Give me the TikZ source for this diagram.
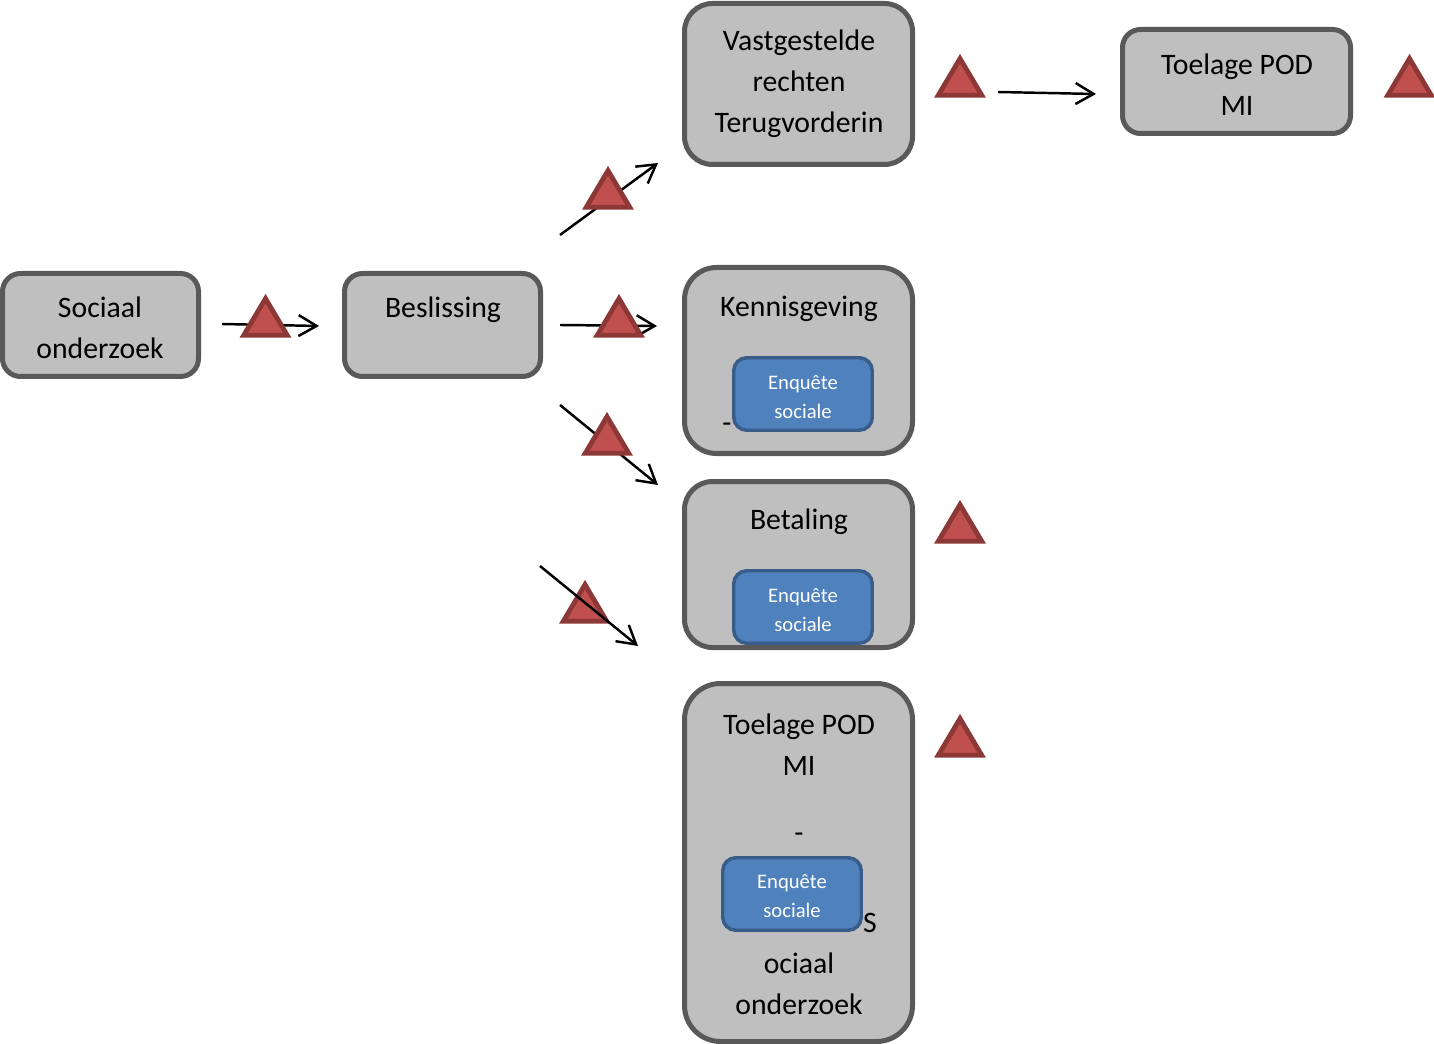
\documentclass[tikz,border=0pt]{standalone}
\usepackage{fontspec}
\setmainfont{Carlito}
\usetikzlibrary{arrows.meta}
\definecolor{boxfill}{HTML}{BFBFBF}
\definecolor{boxline}{HTML}{595959}
\definecolor{bluefill}{HTML}{4F81BD}
\definecolor{blueline}{HTML}{385D8A}
\definecolor{trifill}{HTML}{C0504D}
\definecolor{triline}{HTML}{8C3836}
\newlength{\pxu}\setlength{\pxu}{0.75pt}
\newcommand{\mainfs}{\fontsize{22.3pt}{30.75pt}\selectfont}
\newcommand{\smallfs}{\fontsize{15.5pt}{21.75pt}\selectfont}
% \rbox{style}{name}{x1}{y1}{x2}{y2}{line width}{radius}
\newcommand{\rbox}[8]{%
  \pgfmathsetmacro{\bw}{#5-#3-#7}\pgfmathsetmacro{\bh}{#6-#4-#7}%
  \node[#1,minimum width=\bw*\pxu,minimum height=\bh*\pxu,rounded corners=#8*\pxu] (#2) at ({(#3+#5)/2},{(#4+#6)/2}) {};}
\tikzset{
  x=0.75pt,y=-0.75pt,
  graybox/.style={draw=boxline,fill=boxfill,line width=3.75pt,inner sep=0pt,outer sep=0pt},
  bluebox/.style={draw=blueline,fill=bluefill,line width=2.6pt,inner sep=0pt,outer sep=0pt},
  txtmain/.style={font=\mainfs,text=black,align=center,inner sep=0pt},
  txtsmall/.style={font=\smallfs,text=white,align=center,inner sep=0pt},
  conn/.style={draw=black,line width=1.85pt,-{Straight Barb[length=13.5pt,width=15.75pt]}},
  warn/.pic={\path[fill=trifill,draw=triline,line width=3.6pt,miter limit=10]
    (0,3.6) -- (21.7,40.2) -- (-21.7,40.2) -- cycle;}
}
\begin{document}
\begin{tikzpicture}
\useasboundingbox (0,0) rectangle (1434,1044);
% boxes
\rbox{graybox}{sociaal}{0}{271}{201}{379}{5}{18}
\rbox{graybox}{beslissing}{342}{271}{543}{379}{5}{18}
\rbox{graybox}{vast}{682}{1}{915}{167}{5}{28}
\rbox{graybox}{toelageA}{1120}{27}{1353}{136}{5}{18}
\rbox{graybox}{kennis}{682}{265}{915}{456}{5}{32}
\rbox{graybox}{betaling}{682}{479}{915}{650}{5}{28}
\rbox{graybox}{toelageB}{682}{681}{915}{1044}{5}{36}
\rbox{bluebox}{enqA}{732}{356}{874}{432}{3.5}{13}
\rbox{bluebox}{enqB}{732}{569}{874}{645}{3.5}{13}
\rbox{bluebox}{enqC}{721}{856}{863}{932}{3.5}{13}
% labels
\node[txtmain] (tSociaal) at (100,328) {Sociaal\\onderzoek};
\node[txtmain] (tBeslissing) at (443,310) {Beslissing};
\node[txtmain] (tVast) at (799,84) {Vastgestelde\\rechten\\Terugvorderin};
\node[txtmain] (tToelageA) at (1237,85) {Toelage POD\\MI};
\node[txtmain] (tKennis) at (799,309) {Kennisgeving};
\node[txtmain] (tDashA) at (727,428) {-};
\node[txtmain] (tBetaling) at (799,522) {Betaling};
\node[txtmain] (tToelageB) at (799,745) {Toelage POD\\MI};
\node[txtmain] (tDashB) at (799,838) {-};
\node[txtmain] (tS) at (870,923) {S};
\node[txtmain] (tOciaal) at (799,984) {ociaal\\onderzoek};
\node[txtsmall] (tEnqA) at (803,397) {Enquête\\sociale};
\node[txtsmall] (tEnqB) at (803,610) {Enquête\\sociale};
\node[txtsmall] (tEnqC) at (792,896) {Enquête\\sociale};
% connector ends
\coordinate (a1) at (222,324); \coordinate (a2) at (319,326);
\coordinate (b1) at (560,325); \coordinate (b2) at (657,326);
\coordinate (c1) at (560,235); \coordinate (c2) at (658,163);
\coordinate (d1) at (560,405); \coordinate (d2) at (658,485);
\coordinate (e1) at (540,566); \coordinate (e2) at (638,646);
\coordinate (f1) at (998,92); \coordinate (f2) at (1096,94);
% connectors under the triangles
\draw[conn] (a1) -- (a2);
\draw[conn] (b1) -- (b2);
\draw[conn] (c1) -- (c2);
\draw[conn] (d1) -- (d2);
\draw[conn] (f1) -- (f2);
% triangles (position = apex, outer)
\pic at (265.5,295) {warn};
\pic at (619,295) {warn};
\pic at (608,167) {warn};
\pic at (607,413) {warn};
\pic at (585,581) {warn};
\pic at (960,55) {warn};
\pic at (1409.5,55) {warn};
\pic at (960,501) {warn};
\pic at (960,715) {warn};
% connector over its triangle
\draw[conn] (e1) -- (e2);
\end{tikzpicture}
\end{document}
